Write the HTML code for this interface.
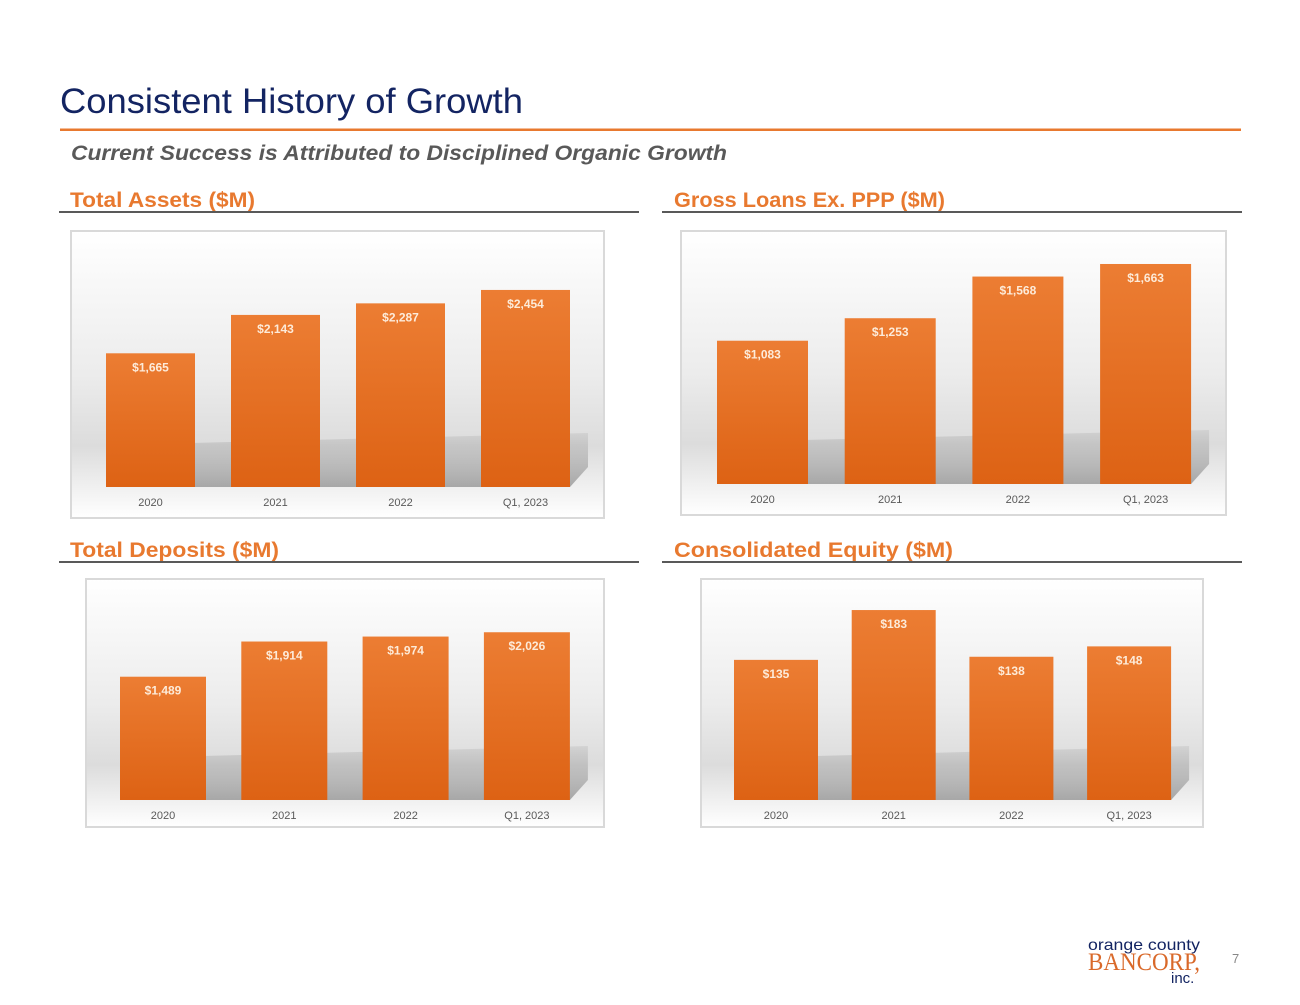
<!DOCTYPE html>
<html><head><meta charset="utf-8"><style>
body{margin:0;background:#fff;}
svg{display:block;font-family:"Liberation Sans",sans-serif;}
</style></head><body>
<svg id="s" width="1300" height="1005" viewBox="0 0 1300 1005">
<defs>
<linearGradient id="bg" x1="0" y1="0" x2="0" y2="1"><stop offset="0" stop-color="#ffffff"/><stop offset="0.5" stop-color="#ececec"/><stop offset="0.75" stop-color="#dcdcdc"/><stop offset="1" stop-color="#ffffff"/></linearGradient>
<linearGradient id="bar" x1="0" y1="0" x2="0" y2="1"><stop offset="0" stop-color="#ec7d33"/><stop offset="1" stop-color="#dd6214"/></linearGradient>
<linearGradient id="sh" x1="0" y1="0" x2="0" y2="1"><stop offset="0" stop-color="#999" stop-opacity="0.2"/><stop offset="1" stop-color="#888" stop-opacity="0.7"/></linearGradient>
</defs>
<text x="60" y="113" font-size="35" fill="#132462" textLength="463" lengthAdjust="spacingAndGlyphs">Consistent History of Growth</text>
<rect x="60" y="128.5" width="1181" height="2.5" fill="#e8792f"/>
<text x="71" y="160" font-size="21" font-weight="bold" font-style="italic" fill="#595959" textLength="656" lengthAdjust="spacingAndGlyphs">Current Success is Attributed to Disciplined Organic Growth</text>
<text x="70" y="207" font-size="21" font-weight="bold" fill="#e8792f" textLength="185" lengthAdjust="spacingAndGlyphs">Total Assets ($M)</text>
<rect x="59" y="211" width="580" height="2" fill="#595959"/>
<text x="674" y="207" font-size="21" font-weight="bold" fill="#e8792f" textLength="271" lengthAdjust="spacingAndGlyphs">Gross Loans Ex. PPP ($M)</text>
<rect x="662" y="211" width="580" height="2" fill="#595959"/>
<text x="70" y="557" font-size="21" font-weight="bold" fill="#e8792f" textLength="209" lengthAdjust="spacingAndGlyphs">Total Deposits ($M)</text>
<rect x="59" y="561" width="580" height="2" fill="#595959"/>
<text x="674" y="557" font-size="21" font-weight="bold" fill="#e8792f" textLength="279" lengthAdjust="spacingAndGlyphs">Consolidated Equity ($M)</text>
<rect x="662" y="561" width="580" height="2" fill="#595959"/>
<g>
<text x="1088" y="950" font-size="16" fill="#132462" textLength="112" lengthAdjust="spacingAndGlyphs">orange county</text>
<text x="1088" y="970" font-size="25" fill="#d9692a" font-family="Liberation Serif,serif" textLength="112" lengthAdjust="spacingAndGlyphs">BANCORP,</text>
<text x="1171" y="983" font-size="15" fill="#132462">inc.</text>
</g>
<text x="1232" y="963" font-size="13" fill="#888">7</text>
<g id="charts"></g>
</svg>
<script>
const categories = ["2020","2021","2022","Q1, 2023"];
const assetsValues = [1665,2143,2287,2454];
const loansValues = [1083,1253,1568,1663];
const depositsValues = [1489,1914,1974,2026];
const equityValues = [135,183,138,148];

const NS="http://www.w3.org/2000/svg";
const root=document.getElementById('charts');
function mk(tag,attrs,parent){const e=document.createElementNS(NS,tag);for(const k in attrs)e.setAttribute(k,attrs[k]);parent.appendChild(e);return e;}
function chart(name,vals,box,firstX,step,bw,bottom,scale){
  const g=mk('g',{},root);
  
  
  const bgr=mk('rect',{x:box[0],y:box[1],width:box[2],height:box[3],fill:'url(#bg)',stroke:'#d9d9d9','stroke-width':2},g);
  
  
  const y=v=>bottom-v*scale;
  const sx0=firstX+bw*0.5, sx1=firstX+3*step+bw+18;
  const shp=mk('polygon',{points:`${sx0},${bottom} ${sx0+40},${bottom-44} ${sx1},${bottom-54} ${sx1},${bottom-20} ${firstX+3*step+bw},${bottom}`,fill:'url(#sh)'},g);
  
  
  vals.forEach((v,i)=>{
    const x=firstX+i*step;
    const r=mk('rect',{x:x,y:y(v),width:bw,height:v*scale,fill:'url(#bar)'},g);
    
    
    const t=mk('text',{x:x+bw/2,y:y(v)+18,'text-anchor':'middle','font-size':12,'font-weight':'bold',fill:'#fdebd9'},g);
    t.textContent='$'+v.toLocaleString('en-US');
    
    
    const c=mk('text',{x:x+bw/2,y:bottom+19,'text-anchor':'middle','font-size':11,fill:'#595959'},g);
    c.textContent=categories[i];
    
    
  });
}
chart('total-assets',assetsValues,[71,231,533,287],106,125,89,487,0.0803);
chart('gross-loans',loansValues,[681,231,545,284],717,127.7,91,484,0.1323);
chart('total-deposits',depositsValues,[86,579,518,248],120,121.3,86,800,0.0828);
chart('equity',equityValues,[701,579,502,248],734,117.7,84,800,1.038);
</script>
</body></html>
